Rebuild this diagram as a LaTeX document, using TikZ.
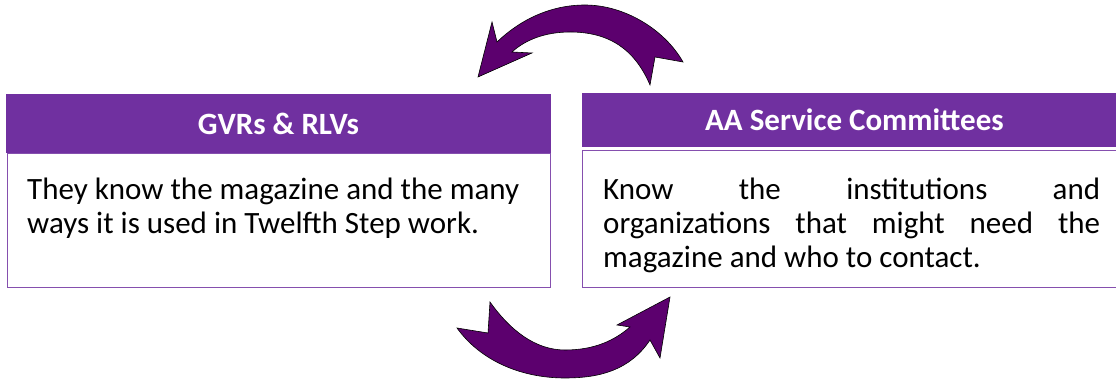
\documentclass[tikz,border=0pt]{standalone}
\usepackage{fontspec}
\setmainfont{Carlito}
\definecolor{hdrpurple}{HTML}{7030A0}
\definecolor{arrowpurple}{HTML}{5C006E}
\begin{document}
\begin{tikzpicture}[x=1pt,y=-1pt,
  hdr/.style={fill=hdrpurple, draw=none, minimum width=545pt, minimum height=59pt, inner sep=0pt,
    text=white, font=\fontsize{31}{37}\selectfont\bfseries},
  bodybox/.style={draw=hdrpurple!85, line width=0.8pt, fill=white},
  bodyline/.style={anchor=base west, inner sep=0pt, font=\fontsize{31}{37}\selectfont},
  bigarrow/.style={fill=arrowpurple, draw=black, line width=0.6pt, line join=miter}]
\useasboundingbox (0,0) rectangle (1116,379);
% left box
\draw[bodybox] (7,153) rectangle (550,287);
\node[hdr] (h1) at (278.5,123.5) {GVRs \& RLVs};
\node[bodyline] (t1a) at (27,200) {They know the magazine and the many};
\node[bodyline] (t1b) at (27,234) {ways it is used in Twelfth Step work.};
% right box
\draw[bodybox] (582,150) rectangle (1130,287);
\node[hdr, minimum height=54pt] (h2) at (854.5,120) {AA Service Committees};
\node[bodyline] (t2a) at (603,200) {\makebox[497pt][s]{Know the institutions and}};
\node[bodyline] (t2b) at (603,234) {\makebox[497pt][s]{organizations that might need the}};
\node[bodyline] (t2c) at (603,268) {magazine and who to contact.};
% top arrow
\draw[bigarrow] (478,77) -- (492,22) -- (497,42)
  .. controls (520,20) and (550,5) .. (585,5)
  .. controls (625,5) and (665,30) .. (683,62)
  -- (655,57) -- (650,85)
  .. controls (635,50) and (610,32) .. (570,32)
  .. controls (545,32) and (525,40) .. (512,52)
  -- (532,53) -- cycle;
% bottom arrow
\draw[bigarrow] (457,328) -- (488,333) -- (490,302)
  .. controls (510,330) and (535,350) .. (565,350)
  .. controls (595,350) and (615,340) .. (630,327)
  -- (617,325) -- (670,297) -- (660,358) -- (650,340)
  .. controls (630,370) and (600,378) .. (565,378)
  .. controls (520,378) and (480,360) .. (457,328) -- cycle;
\end{tikzpicture}
\end{document}
